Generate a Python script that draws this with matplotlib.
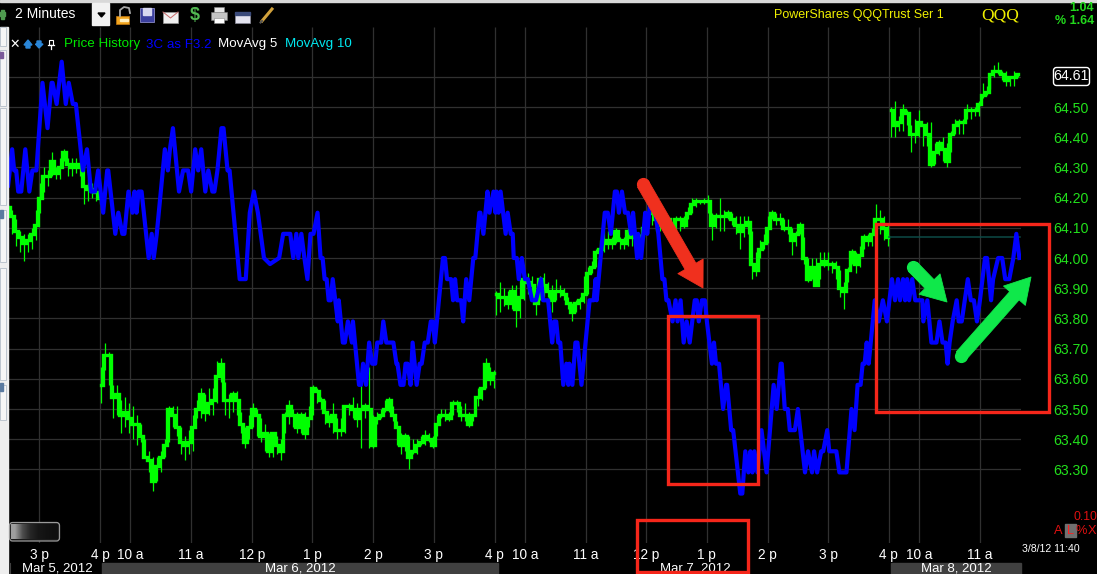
import numpy as np
import matplotlib
matplotlib.use('Agg')
import matplotlib.pyplot as plt
from matplotlib.patches import Rectangle, FancyArrowPatch, FancyBboxPatch, Polygon

plt.rcParams['font.family'] = ['Liberation Sans', 'DejaVu Sans']

# x unit is trading minutes counted from the 3 p tick on Mar 5
tick_min = [0, 60, 90, 150, 210, 270, 330, 390, 450, 480, 540, 600, 660, 720, 780, 840, 870, 930]
tick_lab = ['3 p', '4 p', '10 a', '11 a', '12 p', '1 p', '2 p', '3 p', '4 p', '10 a', '11 a', '12 p', '1 p', '2 p', '3 p', '4 p', '10 a', '11 a']
price_lab = [63.3, 63.4, 63.5, 63.6, 63.7, 63.8, 63.9, 64.0, 64.1, 64.2, 64.3, 64.4, 64.5]
grid_lev = price_lab + [64.6]
last_price = '64.61'
flat_line = 64.07

# 3C line
blue_min = [-31, -27, -25, -23, -21, -18, -14, -10, -7, -3, 3, 8, 12, 13, 17, 22, 26, 29, 33, 36,
            43, 47, 51, 55, 58, 63, 67, 68, 75, 78, 82, 84, 88, 92, 94, 96, 98, 101, 108, 111,
            113, 116, 124, 127, 129, 132, 138, 142, 147, 150, 154, 157, 160, 162, 164, 167, 171, 173, 176, 180,
            182, 186, 188, 196, 198, 204, 208, 212, 216, 222, 228, 237, 241, 248, 251, 254, 256, 259, 262, 265,
            268, 271, 275, 278, 280, 282, 284, 286, 288, 290, 295, 296, 300, 302, 305, 309, 310, 316, 318, 320,
            323, 326, 329, 332, 334, 338, 340, 343, 350, 353, 354, 357, 360, 362, 364, 367, 369, 373, 376, 378,
            381, 384, 387, 389, 391, 399, 401, 403, 407, 409, 411, 413, 417, 419, 422, 425, 429, 431, 435, 436,
            439, 443, 445, 449, 451, 452, 454, 456, 461, 463, 466, 468, 469, 472, 474, 477, 480, 483, 487, 491,
            496, 498, 503, 507, 509, 511, 513, 515, 518, 521, 523, 524, 527, 530, 532, 536, 544, 548, 550, 551,
            559, 562, 565, 569, 571, 573, 576, 579, 582, 585, 587, 591, 592, 595, 599, 601, 604, 609, 612, 616,
            618, 620, 622, 626, 629, 631, 634, 637, 640, 643, 648, 650, 652, 655, 658, 660, 665, 667, 669, 672,
            676, 679, 680, 684, 686, 693, 695, 698, 701, 703, 705, 707, 710, 714, 719, 726, 729, 733, 734, 737,
            740, 742, 747, 750, 757, 760, 764, 766, 769, 773, 775, 779, 781, 788, 791, 798, 803, 806, 809, 812,
            814, 816, 818, 820, 826, 830, 834, 838, 843, 846, 849, 851, 854, 856, 858, 860, 863, 866, 873, 874,
            878, 882, 887, 890, 893, 896, 898, 900, 903, 907, 909, 912, 915, 918, 921, 924, 927, 930, 935, 937,
            941, 943, 948, 952, 955, 959, 963, 966, 969]
blue_val = [64.24, 64.36, 64.29, 64.29, 64.22, 64.22, 64.36, 64.22, 64.29, 64.29, 64.58, 64.43, 64.58, 64.58, 64.51, 64.65, 64.51, 64.58, 64.51, 64.51,
            64.29, 64.36, 64.22, 64.22, 64.29, 64.15, 64.29, 64.29, 64.08, 64.15, 64.08, 64.08, 64.22, 64.15, 64.22, 64.15, 64.22, 64.22, 64.00, 64.08,
            64.00, 64.08, 64.36, 64.29, 64.36, 64.43, 64.22, 64.29, 64.29, 64.22, 64.36, 64.29, 64.36, 64.29, 64.22, 64.29, 64.22, 64.22, 64.29, 64.43,
            64.43, 64.29, 64.29, 64.00, 63.93, 63.93, 64.15, 64.22, 64.15, 64.00, 63.98, 64.00, 64.08, 64.08, 64.00, 64.08, 64.00, 64.08, 64.00, 63.93,
            64.08, 64.08, 64.15, 64.00, 64.00, 63.93, 63.93, 63.86, 63.86, 63.93, 63.79, 63.86, 63.72, 63.72, 63.79, 63.72, 63.79, 63.58, 63.58, 63.65,
            63.58, 63.72, 63.65, 63.65, 63.72, 63.72, 63.79, 63.72, 63.72, 63.65, 63.65, 63.58, 63.58, 63.65, 63.65, 63.58, 63.72, 63.58, 63.65, 63.65,
            63.72, 63.72, 63.79, 63.79, 63.72, 64.00, 64.00, 63.93, 63.93, 63.86, 63.93, 63.86, 63.86, 63.79, 63.93, 63.86, 64.00, 64.00, 64.15, 64.15,
            64.08, 64.22, 64.15, 64.22, 64.15, 64.22, 64.15, 64.22, 64.08, 64.15, 64.08, 64.08, 64.00, 64.00, 63.93, 64.00, 63.93, 63.93, 63.86, 63.86,
            63.93, 63.86, 63.86, 63.72, 63.79, 63.79, 63.72, 63.72, 63.58, 63.65, 63.58, 63.65, 63.58, 63.72, 63.72, 63.58, 63.86, 63.86, 63.93, 63.86,
            64.15, 64.15, 64.08, 64.22, 64.22, 64.15, 64.22, 64.15, 64.15, 64.08, 64.15, 64.00, 64.08, 64.00, 64.15, 64.08, 64.19, 64.15, 64.08, 63.93,
            63.93, 63.86, 63.86, 63.79, 63.86, 63.79, 63.86, 63.72, 63.79, 63.72, 63.86, 63.86, 63.79, 63.86, 63.86, 63.79, 63.65, 63.72, 63.65, 63.65,
            63.50, 63.58, 63.58, 63.43, 63.43, 63.22, 63.22, 63.36, 63.29, 63.36, 63.29, 63.36, 63.29, 63.43, 63.29, 63.58, 63.50, 63.65, 63.65, 63.50,
            63.50, 63.43, 63.43, 63.50, 63.29, 63.36, 63.29, 63.36, 63.29, 63.36, 63.36, 63.43, 63.36, 63.36, 63.29, 63.29, 63.50, 63.43, 63.58, 63.58,
            63.65, 63.65, 63.72, 63.65, 63.86, 63.79, 63.86, 63.79, 63.93, 63.86, 63.93, 63.86, 63.93, 63.86, 63.93, 63.86, 63.93, 63.86, 63.86, 63.79,
            63.86, 63.72, 63.72, 63.79, 63.72, 63.72, 63.65, 63.72, 63.79, 63.86, 63.79, 63.79, 63.86, 63.93, 63.86, 63.86, 63.79, 63.86, 64.00, 64.00,
            63.86, 63.93, 64.00, 64.00, 63.93, 63.93, 64.00, 64.08, 64.00]

# price history, one reading every 4 minutes per session
close_a = [64.17, 64.14, 64.09, 64.07, 64.05, 64.06, 64.08, 64.11, 64.20, 64.27, 64.27, 64.32, 64.28, 64.30, 64.35, 64.31, 64.30, 64.31, 64.30, 64.24, 64.23, 64.23, 64.22, 64.20]
high_a = [64.18, 64.16, 64.13, 64.09, 64.08, 64.08, 64.10, 64.16, 64.25, 64.30, 64.29, 64.35, 64.30, 64.33, 64.36, 64.33, 64.33, 64.33, 64.34, 64.30, 64.26, 64.25, 64.25, 64.22]
low_a = [64.14, 64.08, 64.04, 64.02, 63.99, 64.02, 64.03, 64.06, 64.15, 64.22, 64.24, 64.27, 64.26, 64.26, 64.32, 64.27, 64.27, 64.28, 64.27, 64.18, 64.19, 64.20, 64.19, 64.18]

close_b = [63.58, 63.68, 63.68, 63.54, 63.55, 63.48, 63.49, 63.47, 63.45, 63.45, 63.41, 63.34, 63.33, 63.26, 63.31, 63.34, 63.38, 63.50, 63.48, 63.44,
           63.39, 63.38, 63.39, 63.44, 63.50, 63.55, 63.49, 63.52, 63.53, 63.61, 63.65, 63.53, 63.53, 63.55, 63.53, 63.45, 63.39, 63.44, 63.50, 63.48,
           63.41, 63.42, 63.36, 63.42, 63.38, 63.36, 63.48, 63.51, 63.48, 63.44, 63.48, 63.42, 63.47, 63.57, 63.56, 63.53, 63.49, 63.46, 63.48, 63.43,
           63.43, 63.51, 63.51, 63.50, 63.47, 63.50, 63.51, 63.50, 63.38, 63.47, 63.48, 63.50, 63.53, 63.48, 63.44, 63.38, 63.41, 63.34, 63.36, 63.38,
           63.39, 63.41, 63.40, 63.38, 63.45, 63.48, 63.48, 63.47, 63.52, 63.52, 63.48, 63.48, 63.45, 63.48, 63.54, 63.57, 63.65, 63.60, 63.62]
high_b = [63.64, 63.72, 63.69, 63.58, 63.58, 63.53, 63.54, 63.52, 63.51, 63.48, 63.45, 63.40, 63.36, 63.34, 63.34, 63.36, 63.40, 63.51, 63.51, 63.51,
          63.44, 63.41, 63.43, 63.48, 63.53, 63.57, 63.55, 63.57, 63.57, 63.66, 63.67, 63.59, 63.55, 63.56, 63.56, 63.49, 63.44, 63.48, 63.52, 63.50,
          63.47, 63.45, 63.42, 63.42, 63.41, 63.40, 63.49, 63.53, 63.50, 63.49, 63.49, 63.49, 63.51, 63.58, 63.57, 63.54, 63.53, 63.48, 63.52, 63.47,
          63.47, 63.51, 63.52, 63.54, 63.52, 63.58, 63.52, 63.64, 63.48, 63.49, 63.50, 63.53, 63.54, 63.51, 63.46, 63.42, 63.42, 63.41, 63.40, 63.40,
          63.41, 63.43, 63.42, 63.41, 63.48, 63.50, 63.50, 63.49, 63.53, 63.53, 63.51, 63.52, 63.49, 63.48, 63.57, 63.57, 63.67, 63.64, 63.63]
low_b = [63.52, 63.63, 63.58, 63.47, 63.48, 63.42, 63.44, 63.42, 63.40, 63.38, 63.39, 63.34, 63.29, 63.23, 63.26, 63.29, 63.34, 63.39, 63.44, 63.41,
         63.35, 63.33, 63.35, 63.36, 63.47, 63.47, 63.46, 63.48, 63.48, 63.52, 63.59, 63.48, 63.47, 63.49, 63.48, 63.42, 63.37, 63.40, 63.44, 63.41,
         63.39, 63.36, 63.34, 63.34, 63.35, 63.33, 63.42, 63.45, 63.44, 63.42, 63.42, 63.40, 63.44, 63.48, 63.52, 63.50, 63.45, 63.44, 63.42, 63.40,
         63.41, 63.42, 63.48, 63.47, 63.44, 63.37, 63.47, 63.37, 63.37, 63.45, 63.47, 63.49, 63.49, 63.46, 63.38, 63.35, 63.36, 63.30, 63.35, 63.35,
         63.38, 63.38, 63.39, 63.37, 63.41, 63.47, 63.46, 63.46, 63.48, 63.49, 63.46, 63.46, 63.44, 63.46, 63.51, 63.53, 63.57, 63.58, 63.57]

close_c = [63.88, 63.87, 63.87, 63.85, 63.89, 63.83, 63.87, 63.93, 63.92, 63.91, 63.85, 63.93, 63.91, 63.89, 63.86, 63.89, 63.89, 63.88, 63.85, 63.82,
           63.85, 63.86, 63.88, 63.95, 63.97, 64.02, 64.03, 64.05, 64.06, 64.05, 64.09, 64.06, 64.05, 64.09, 64.07, 64.07, 64.07,
           64.10, 64.15, 64.15, 64.13, 64.11, 64.11, 64.13, 64.09, 64.13, 64.13, 64.11, 64.15, 64.18, 64.19, 64.19, 64.19, 64.19, 64.11, 64.14, 64.14,
           64.14, 64.15, 64.13, 64.11, 64.09, 64.11, 64.12, 63.98, 63.96, 64.03, 64.05, 64.10, 64.15, 64.13, 64.13, 64.10, 64.10, 64.06, 64.08,
           64.11, 64.00, 63.93, 63.97, 63.91, 63.98, 63.99, 63.98, 63.98, 63.97, 63.90, 63.89, 63.96, 64.02, 63.98, 64.01, 64.07, 64.06, 64.08, 64.13, 64.13, 64.10, 64.07]
high_c = [63.89, 63.92, 63.90, 63.89, 63.91, 63.91, 63.93, 63.94, 63.95, 63.94, 63.87, 63.94, 63.95, 63.92, 63.91, 63.93, 63.91, 63.90, 63.87, 63.85,
          63.86, 63.87, 63.94, 63.97, 63.99, 64.03, 64.06, 64.09, 64.09, 64.07, 64.10, 64.07, 64.07, 64.10, 64.08, 64.08, 64.08,
          64.13, 64.17, 64.16, 64.15, 64.13, 64.14, 64.14, 64.11, 64.14, 64.14, 64.14, 64.17, 64.20, 64.20, 64.19, 64.20, 64.21, 64.15, 64.15, 64.20,
          64.16, 64.16, 64.15, 64.14, 64.14, 64.14, 64.14, 64.09, 64.02, 64.06, 64.08, 64.14, 64.16, 64.15, 64.15, 64.13, 64.13, 64.10, 64.09,
          64.12, 64.07, 64.00, 64.00, 64.00, 64.02, 64.02, 64.02, 63.99, 63.99, 63.96, 63.92, 63.97, 64.03, 64.02, 64.04, 64.08, 64.08, 64.10, 64.18, 64.16, 64.14, 64.11]
low_c = [63.81, 63.82, 63.84, 63.83, 63.83, 63.77, 63.80, 63.86, 63.88, 63.86, 63.81, 63.86, 63.87, 63.87, 63.82, 63.86, 63.87, 63.86, 63.83, 63.79,
         63.82, 63.83, 63.85, 63.88, 63.95, 63.97, 64.00, 64.02, 64.03, 64.03, 64.05, 64.03, 64.03, 64.04, 64.04, 64.05, 64.04,
         64.07, 64.10, 64.11, 64.09, 64.09, 64.09, 64.10, 64.07, 64.09, 64.09, 64.10, 64.13, 64.15, 64.17, 64.18, 64.18, 64.15, 64.06, 64.10, 64.09,
         64.09, 64.13, 64.11, 64.08, 64.03, 64.07, 64.08, 63.93, 63.94, 64.00, 64.03, 64.05, 64.13, 64.11, 64.11, 64.09, 64.08, 64.01, 64.04,
         64.08, 63.98, 63.92, 63.93, 63.91, 63.93, 63.97, 63.96, 63.95, 63.93, 63.87, 63.83, 63.92, 63.98, 63.95, 63.97, 64.03, 64.04, 64.04, 64.11, 64.08, 64.06, 64.04]

close_d = [64.49, 64.44, 64.45, 64.49, 64.48, 64.41, 64.41, 64.45, 64.44, 64.41, 64.31, 64.35, 64.38, 64.36, 64.32, 64.41, 64.44, 64.45, 64.45, 64.49,
           64.49, 64.49, 64.51, 64.54, 64.55, 64.61, 64.62, 64.62, 64.61, 64.59, 64.60, 64.60, 64.61]
high_d = [64.50, 64.52, 64.47, 64.51, 64.49, 64.44, 64.46, 64.49, 64.44, 64.45, 64.45, 64.38, 64.39, 64.40, 64.38, 64.42, 64.46, 64.46, 64.46, 64.51,
          64.50, 64.50, 64.52, 64.58, 64.57, 64.61, 64.64, 64.65, 64.62, 64.62, 64.60, 64.62, 64.61]
low_d = [64.40, 64.40, 64.42, 64.42, 64.44, 64.35, 64.38, 64.40, 64.37, 64.37, 64.30, 64.31, 64.34, 64.32, 64.30, 64.35, 64.41, 64.41, 64.41, 64.46,
         64.46, 64.47, 64.47, 64.53, 64.54, 64.56, 64.60, 64.61, 64.59, 64.57, 64.57, 64.57, 64.60]

sessions = [(-31, 60, close_a, high_a, low_a), (61, 449, close_b, high_b, low_b),
            (451, 839, close_c, high_c, low_c), (842, 968, close_d, high_d, low_d)]

W, H = 1097, 574
fig = plt.figure(figsize=(W / 100, H / 100), dpi=100, facecolor='black')

# main price pane, placed by pixels
L, R, T, B = 8, 1021, 27, 543
ax = fig.add_axes([L / W, 1 - B / H, (R - L) / W, (B - T) / H], facecolor='black')
ax.set_xlim(-31.1, 970.6)
ax.set_ylim(64.5 - (B - 107) / 302, 64.5 + (107 - T) / 302)
for s in ax.spines.values():
    s.set_visible(False)
ax.set_xticks(tick_min)
ax.set_xticklabels(tick_lab, color='white', fontsize=9.8)
ax.tick_params(axis='x', length=0, pad=3.5)
ax.set_yticks(price_lab)
ax.set_yticklabels(['%.2f' % p for p in price_lab], color='#22e01c', fontsize=10.2)
ax.yaxis.tick_right()
ax.tick_params(axis='y', length=0, pad=23)
ax.vlines(tick_min, *ax.get_ylim(), color='#303030', lw=0.9, zorder=1)
ax.hlines(grid_lev, *ax.get_xlim(), color='#303030', lw=0.9, zorder=1)

for start, stop, close, high, low in sessions:
    xs = np.linspace(start, stop, len(close))
    ax.vlines(xs, low, high, color='#00ff00', lw=0.9, zorder=2)
    ax.plot(xs, close, color='#00ff00', lw=2.4, drawstyle='steps-mid', solid_joinstyle='miter', zorder=2)

ax.plot([840, 970], [flat_line, flat_line], color='#0c4a46', lw=1.1, zorder=2)
ax.plot(blue_min, blue_val, color='#0000ff', lw=3.0, solid_joinstyle='round', zorder=3)

# window chrome and the hand drawn marks sit on a pixel overlay
ov = fig.add_axes([0, 0, 1, 1], facecolor='none')
ov.set_xlim(0, W)
ov.set_ylim(H, 0)
ov.axis('off')

ov.add_patch(Rectangle((0, 0), W, 1.5, color='#d8d8d8'))
ov.add_patch(Rectangle((0, 27), 8, H - 27, color='#eeeeee'))
for y0, y1 in [(27, 46), (50, 106), (108, 205), (210, 262), (268, 380), (385, 420)]:
    ov.add_patch(Rectangle((0, y0), 6, y1 - y0, fc='#f6f6f6', ec='#a8b4c0', lw=0.5))
ov.add_patch(Rectangle((0, 52), 2.5, 6, color='#7a5a9a'))
ov.add_patch(Rectangle((0, 210), 2.5, 8, color='#5a7aa0'))
ov.add_patch(Rectangle((0, 383), 2.5, 8, color='#5a7aa0'))
ov.add_patch(Rectangle((0, 12), 5, 4, color='#4f9a4f'))
ov.add_patch(Rectangle((1, 9.5), 2.5, 9, color='#4f9a4f'))

ov.text(15, 14.5, '2 Minutes', color='white', fontsize=10, va='center')
ov.add_patch(Rectangle((92, 3), 17, 22, color='#f2f2f2'))
ov.add_patch(Polygon([[98, 13], [105, 13], [101.5, 17]], color='black'))

# toolbar icons
ov.add_patch(Rectangle((116, 16), 13, 8, fc='#f2a51e', ec='#c47a10', lw=0.5))
ov.add_patch(Rectangle((120, 19), 8, 1.5, color='#fff0c0'))
ov.plot([120, 120, 124, 129, 130], [16, 10, 7, 8, 13], color='#a8a8a8', lw=1.3)
ov.add_patch(Rectangle((140, 8), 14, 14, fc='#3b3f9e', ec='#8a8ac8', lw=0.6))
ov.add_patch(Rectangle((143, 8), 8, 7, color='#d8d8f0'))
ov.add_patch(Rectangle((163, 12), 15, 11, fc='#f0f0f0', ec='#9a9a9a', lw=0.5))
ov.plot([163, 170.5, 178], [12, 18, 12], color='#c86a6a', lw=0.7)
ov.text(195, 15, '$', color='#52b852', fontsize=13, fontweight='bold', ha='center', va='center')
ov.add_patch(Rectangle((211, 12), 16, 8, fc='#c4c4c4', ec='#7a7a7a', lw=0.4))
ov.add_patch(Rectangle((214, 7), 10, 5, fc='#e6e6e6', ec='#8a8a8a', lw=0.4))
ov.add_patch(Rectangle((214, 18), 10, 5, fc='white', ec='#8a8a8a', lw=0.4))
ov.add_patch(Rectangle((235, 12), 15, 11, fc='#e4e4f0', ec='#8a8a9a', lw=0.5))
ov.add_patch(Rectangle((235, 12), 15, 2.5, color='#3a4a7a'))
ov.plot([262, 272], [21, 9], color='#d2a23c', lw=2.2)
ov.plot([260.5, 262], [22.5, 21], color='#555555', lw=1.5)

# legend row
ov.text(14.5, 44, '\u2715', color='white', fontsize=9, ha='center', va='center', fontweight='bold', family='DejaVu Sans')
ov.add_patch(Polygon([[24, 45], [28, 40], [32, 45], [30, 45], [30, 48], [26, 48], [26, 45]], color='#2a86d8'))
ov.add_patch(Polygon([[35.5, 44], [37, 44], [37, 41], [41, 41], [41, 44], [43, 44], [39, 48]], color='#2a86d8'))
ov.plot([48, 54], [45, 45], color='white', lw=0.9)
ov.plot([51, 51], [45, 49], color='white', lw=0.9)
ov.add_patch(Rectangle((49, 40), 4, 5, fc='none', ec='white', lw=0.8))
ov.text(64, 44.5, 'Price History', color='#00e800', fontsize=9.6, va='center')
ov.text(146, 44.5, '3C as F3.2', color='#0000ff', fontsize=9.6, va='center')
ov.text(218, 44.5, 'MovAvg 5', color='white', fontsize=9.6, va='center')
ov.text(285, 44.5, 'MovAvg 10', color='#00e8f0', fontsize=9.6, va='center')

# header on the right
ov.text(774, 15, 'PowerShares QQQTrust Ser 1', color='#f0f000', fontsize=9.0, va='center')
ov.text(981, 15, 'QQQ', color='#f0f000', fontsize=12.5, va='center', family='Liberation Serif')
ov.text(1094, 8, '1.04', color='#22d81c', fontsize=9, fontweight='bold', ha='right', va='center')
ov.text(1094, 21, '% 1.64', color='#22d81c', fontsize=9, fontweight='bold', ha='right', va='center')

# last price box
ov.add_patch(FancyBboxPatch((1055, 69), 33, 15, boxstyle='round,pad=1.5,rounding_size=3', fc='black', ec='white', lw=1.0))
ov.text(1071.5, 76, last_price, color='white', fontsize=10.2, ha='center', va='center')

# brush button
ov.add_patch(FancyBboxPatch((11, 524), 47, 15.5, boxstyle='round,pad=1.5,rounding_size=3', fc='#1a1a1a', ec='#9a9a9a', lw=0.9))
ov.imshow(np.array([[0.62, 0.3, 0.15, 0.09, 0.07, 0.06]]), extent=(11, 58, 539, 524), cmap='gray', vmin=0, vmax=1,
          aspect='auto', interpolation='bilinear', zorder=1)
ov.set_xlim(0, W)
ov.set_ylim(H, 0)

# bottom date bands
ov.add_patch(Rectangle((102, 563), 395.5, 11, color='#404040'))
ov.add_patch(Rectangle((891, 563), 130, 11, color='#404040'))
ov.plot([9.5, 9.5], [563, 574], color='#404040', lw=0.8)
for cx, lab in [(57, 'Mar 5, 2012'), (300, 'Mar 6, 2012'), (695, 'Mar 7, 2012'), (956, 'Mar 8, 2012')]:
    ov.text(cx, 568.5, lab, color='white', fontsize=9.5, ha='center', va='center')

# corner controls
ov.text(1097, 517, '0.10', color='#e01010', fontsize=8.8, ha='right', va='center')
ov.text(1058, 530.5, 'A', color='#e01010', fontsize=9.2, ha='center', va='center')
ov.add_patch(Rectangle((1064.5, 524), 11, 13, color='#707070'))
ov.text(1070, 530.5, 'L', color='#ff2020', fontsize=9.2, ha='center', va='center')
ov.text(1081, 530.5, '%', color='#e01010', fontsize=9.2, ha='center', va='center')
ov.text(1091.5, 530.5, 'X', color='#e01010', fontsize=9.2, ha='center', va='center')
ov.text(1022, 549, '3/8/12 11:40', color='white', fontsize=7.6, va='center')

# red boxes and arrows drawn over the chart
red = '#f5261a'
for x0, y0, x1, y1 in [(668, 316, 758, 484), (876, 224, 1049, 412), (637, 520, 748, 572)]:
    ov.add_patch(Rectangle((x0, y0), x1 - x0, y1 - y0, fc='none', ec=red, lw=2.4, zorder=6))


def draw_arrow(tail, tip, colour):
    ov.add_patch(FancyArrowPatch(tail, tip, arrowstyle='simple,head_width=21,head_length=18,tail_width=9',
                                 mutation_scale=1, fc=colour, ec=colour, lw=0.6, shrinkA=0, shrinkB=0,
                                 capstyle='round', zorder=7))
    ov.plot(*tail, 'o', ms=8.5, color=colour, zorder=7)


draw_arrow((643, 184), (703, 288), '#f0301e')
draw_arrow((913, 267), (947, 302), '#0fe84a')
draw_arrow((961, 356), (1031, 277), '#0fe84a')

fig.savefig('out.png', dpi=100, facecolor='black')
